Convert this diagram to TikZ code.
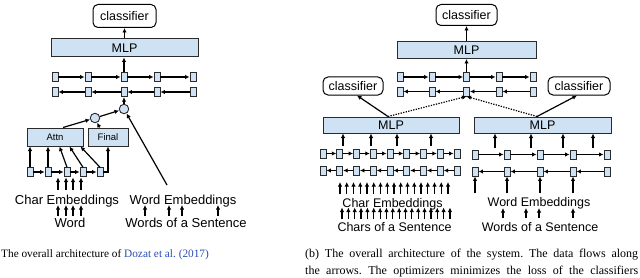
\documentclass[tikz,border=0pt]{standalone}
\usepackage{fontspec}
\setmainfont{Liberation Serif}
\newfontfamily\sff{Liberation Sans}
\usetikzlibrary{arrows.meta,calc}
\definecolor{cellblue}{HTML}{CFE2F3}
\definecolor{edge}{HTML}{2B2B2B}
\definecolor{citeblue}{HTML}{2A4DB0}
\frenchspacing
\begin{document}
\begin{tikzpicture}[x=1pt,y=-1pt,
  cell/.style={draw=edge,fill=cellblue,line width=0.9pt,minimum width=6pt,minimum height=9pt,inner sep=0pt},
  circ/.style={circle,draw=edge,fill=cellblue,line width=0.9pt,minimum size=9.5pt,inner sep=0pt},
  mlpbox/.style={draw=edge,fill=cellblue,line width=1pt,inner sep=0pt,font=\sff\fontsize{12.5}{14}\selectfont},
  smallbox/.style={draw=edge,fill=cellblue,line width=1pt,inner sep=0pt,font=\sff\fontsize{9.5}{11}\selectfont},
  clf/.style={draw=black,fill=white,rounded corners=5pt,line width=1pt,inner sep=0pt,font=\sff\fontsize{12.5}{14}\selectfont},
  lbl/.style={font=\sff\fontsize{12.5}{14}\selectfont,inner sep=0pt,anchor=base},
  lblL/.style={lbl,font=\sff\fontsize{13}{14}\selectfont},
  arr/.style={-{Latex[length=4.5pt,width=4.4pt]},line width=1.2pt,draw=black},
  darr/.style={arr,dash pattern=on 1.3pt off 1.3pt},
  captxt/.style={inner sep=0pt,anchor=base west}]
\useasboundingbox (0,0) rectangle (640,278);

% ================= LEFT DIAGRAM =================
\node[clf,minimum width=63pt,minimum height=23pt] (Lclf) at (124.5,16) {classifier};
\node[mlpbox,minimum width=147pt,minimum height=18pt] (Lmlp) at (124.5,48) {MLP};
\foreach \x [count=\i] in {55,88,124,157,193} {
  \node[cell,minimum height=9.5pt] (Lf\i) at (\x,77) {};
  \node[cell,minimum height=9.5pt] (Lb\i) at (\x,92) {};
}
\foreach \i/\j in {1/2,2/3,3/4,4/5} {
  \draw[arr] (Lf\i) -- (Lf\j);
  \draw[arr] (Lb\j) -- (Lb\i);
}
\draw[arr] (Lf3.north) -- (Lf3.north |- Lmlp.south);
\draw[arr] (Lmlp) -- (Lclf);

\node[circ] (Lc2) at (124,109) {};
\node[circ] (Lc1) at (95,118) {};
\draw[arr] (Lc2) -- (Lb3);
\draw[arr] (Lc1) -- (Lc2);

\node[smallbox,minimum width=56pt,minimum height=18pt] (Attn) at (55,137) {Attn};
\node[smallbox,minimum width=40pt,minimum height=18pt] (Final) at (108,137) {Final};
\draw[arr] ($(Attn.north)+(8,0)$) -- (Lc1);
\draw[arr] ($(Final.north west)+(12,0)$) -- (Lc1);

\foreach \x [count=\i] in {30,48,67,83,100} {
  \node[cell,minimum height=8.5pt] (Lh\i) at (\x,172) {};
}
\foreach \i/\j in {1/2,2/3,3/4,4/5} {
  \draw[arr] (Lh\i) -- (Lh\j);
}
\draw[arr] (Lh1.north) -- (Lh1.north |- Attn.south);
\draw[arr] (Lh2.north) -- (Lh2.north |- Attn.south);
\draw[arr] (Lh3.north) -- ($(Attn.south west)+(33,0)$);
\draw[arr] (Lh4.north) -- ($(Attn.south west)+(43,0)$);
\draw[arr] (Lh5.north) -- ($(Attn.south west)+(54,0)$);
\draw[arr] (Lh5.east) -| (Final.south);

\node[lblL] (LCE) at (67,204) {Char Embeddings};
\node[lblL] (LW) at (70,227) {Word};
\node[lblL] (LWE) at (183,204) {Word Embeddings};
\node[lblL] (LWS) at (186,227) {Words of a Sentence};
\foreach \x [count=\i] in {58,66,73,81} {
  \coordinate (lcea\i) at (\x,190);
  \coordinate (lceb\i) at (\x,177.5);
  \draw[arr] (lcea\i) -- (lceb\i);
  \coordinate (lwa\i) at (\x,216);
  \coordinate (lwb\i) at (\x,205);
  \draw[arr] (lwa\i) -- (lwb\i);
}
\foreach \x [count=\i] in {145,169,182,218} {
  \coordinate (lwsa\i) at (\x,216);
  \coordinate (lwsb\i) at (\x,205);
  \draw[arr] (lwsa\i) -- (lwsb\i);
}
\coordinate (LWEtop) at (167,185);
\draw[arr] (LWEtop) -- (Lc2);

% ================= RIGHT DIAGRAM =================
\node[clf,minimum width=61pt,minimum height=21pt] (Rclf) at (466.5,15) {classifier};
\node[mlpbox,minimum width=139pt,minimum height=17pt] (Rmlp) at (466.5,50) {MLP};
\foreach \x [count=\i] in {400,432,466.5,499,533} {
  \node[cell] (Rf\i) at (\x,77) {};
  \node[cell] (Rb\i) at (\x,91.5) {};
}
\foreach \i/\j in {1/2,2/3,3/4,4/5} {
  \draw[arr] (Rf\i) -- (Rf\j);
  \draw[arr] (Rb\j) -- (Rb\i);
}
\draw[arr] (Rf3.north) -- (Rf3.north |- Rmlp.south);
\draw[arr] (Rmlp) -- (Rclf);

\node[clf,minimum width=60pt,minimum height=18pt] (RLclf) at (353,86) {classifier};
\node[clf,minimum width=62pt,minimum height=18pt] (RRclf) at (579,86) {classifier};
\node[mlpbox,minimum width=136pt,minimum height=16pt] (RLmlp) at (391,125) {MLP};
\node[mlpbox,minimum width=137pt,minimum height=16pt] (RRmlp) at (542.5,125) {MLP};
\draw[arr] ($(RLmlp.north)+(-3,0)$) -- ($(RLclf.south)+(4,0)$);
\draw[darr] ($(RLmlp.north)+(-3,0)$) -- (Rb3.south);
\draw[arr] ($(RRmlp.north)+(-5.5,0)$) -- ($(RRclf.south)+(-2,0)$);
\draw[darr] ($(RRmlp.north)+(-5.5,0)$) -- (Rb3.south);

% char-level BiLSTM
\foreach \k [count=\i] in {0,...,8} {
  \pgfmathsetmacro\xx{323+16.75*\k}
  \node[cell] (Cf\i) at (\xx,153.5) {};
  \node[cell] (Cb\i) at (\xx,170.5) {};
}
\foreach \i/\j in {1/2,2/3,3/4,4/5,5/6,6/7,7/8,8/9} {
  \draw[arr] (Cf\i) -- (Cf\j);
  \draw[arr] (Cb\j) -- (Cb\i);
}
\foreach \x [count=\i] in {343,371,397,431} {
  \coordinate (cma\i) at (\x,146);
  \draw[arr] (cma\i) -- (cma\i |- RLmlp.south);
}
\node[lbl] (RCE) at (392.5,207) {Char Embeddings};
\node[lbl] (RCS) at (394.5,231) {Chars of a Sentence};
\foreach \k in {0,...,16} {
  \pgfmathsetmacro\xx{340+6.75*\k}
  \coordinate (cea\k) at (\xx,194);
  \coordinate (ceb\k) at (\xx,182);
  \draw[arr] (cea\k) -- (ceb\k);
}
\foreach \k in {0,...,17} {
  \pgfmathsetmacro\xx{342+6.35*\k}
  \coordinate (csa\k) at (\xx,219);
  \coordinate (csb\k) at (\xx,207.5);
  \draw[arr] (csa\k) -- (csb\k);
}

% word-level BiLSTM
\foreach \x [count=\i] in {475,507,540,573,607} {
  \node[cell] (Wf\i) at (\x,154.5) {};
  \node[cell] (Wb\i) at (\x,171.5) {};
}
\foreach \i/\j in {1/2,2/3,3/4,4/5} {
  \draw[arr] (Wf\i) -- (Wf\j);
  \draw[arr] (Wb\j) -- (Wb\i);
}
\foreach \x [count=\i] in {495,531,563,593} {
  \coordinate (wma\i) at (\x,148);
  \draw[arr] (wma\i) -- (wma\i |- RRmlp.south);
}
\foreach \i in {1,2,3,4} {
  \coordinate (wea\i) at ($(Wb\i.south)+(0,17)$);
  \draw[arr] (wea\i) -- (Wb\i.south);
}
\node[lbl] (RWE) at (539,206) {Word Embeddings};
\node[lbl] (RWS) at (540,231) {Words of a Sentence};
\foreach \x [count=\i] in {503,526,539,573} {
  \coordinate (wsa\i) at (\x,218);
  \coordinate (wsb\i) at (\x,208);
  \draw[arr] (wsa\i) -- (wsb\i);
}

% ================= CAPTIONS =================
\node[captxt,font=\fontsize{11.3}{13}\selectfont] (capa) at (1,257) {The overall architecture of \textcolor{citeblue}{Dozat et al.\ (2017)}};
\node[captxt,font=\fontsize{12}{15}\selectfont] (capb1) at (305,257) {\makebox[333pt][s]{(b) The overall architecture of the system. The data flows along}};
\node[captxt,font=\fontsize{12}{15}\selectfont] (capb2) at (305,274.5) {\makebox[333pt][s]{the arrows. The optimizers minimizes the loss of the classifiers}};
\end{tikzpicture}
\end{document}
